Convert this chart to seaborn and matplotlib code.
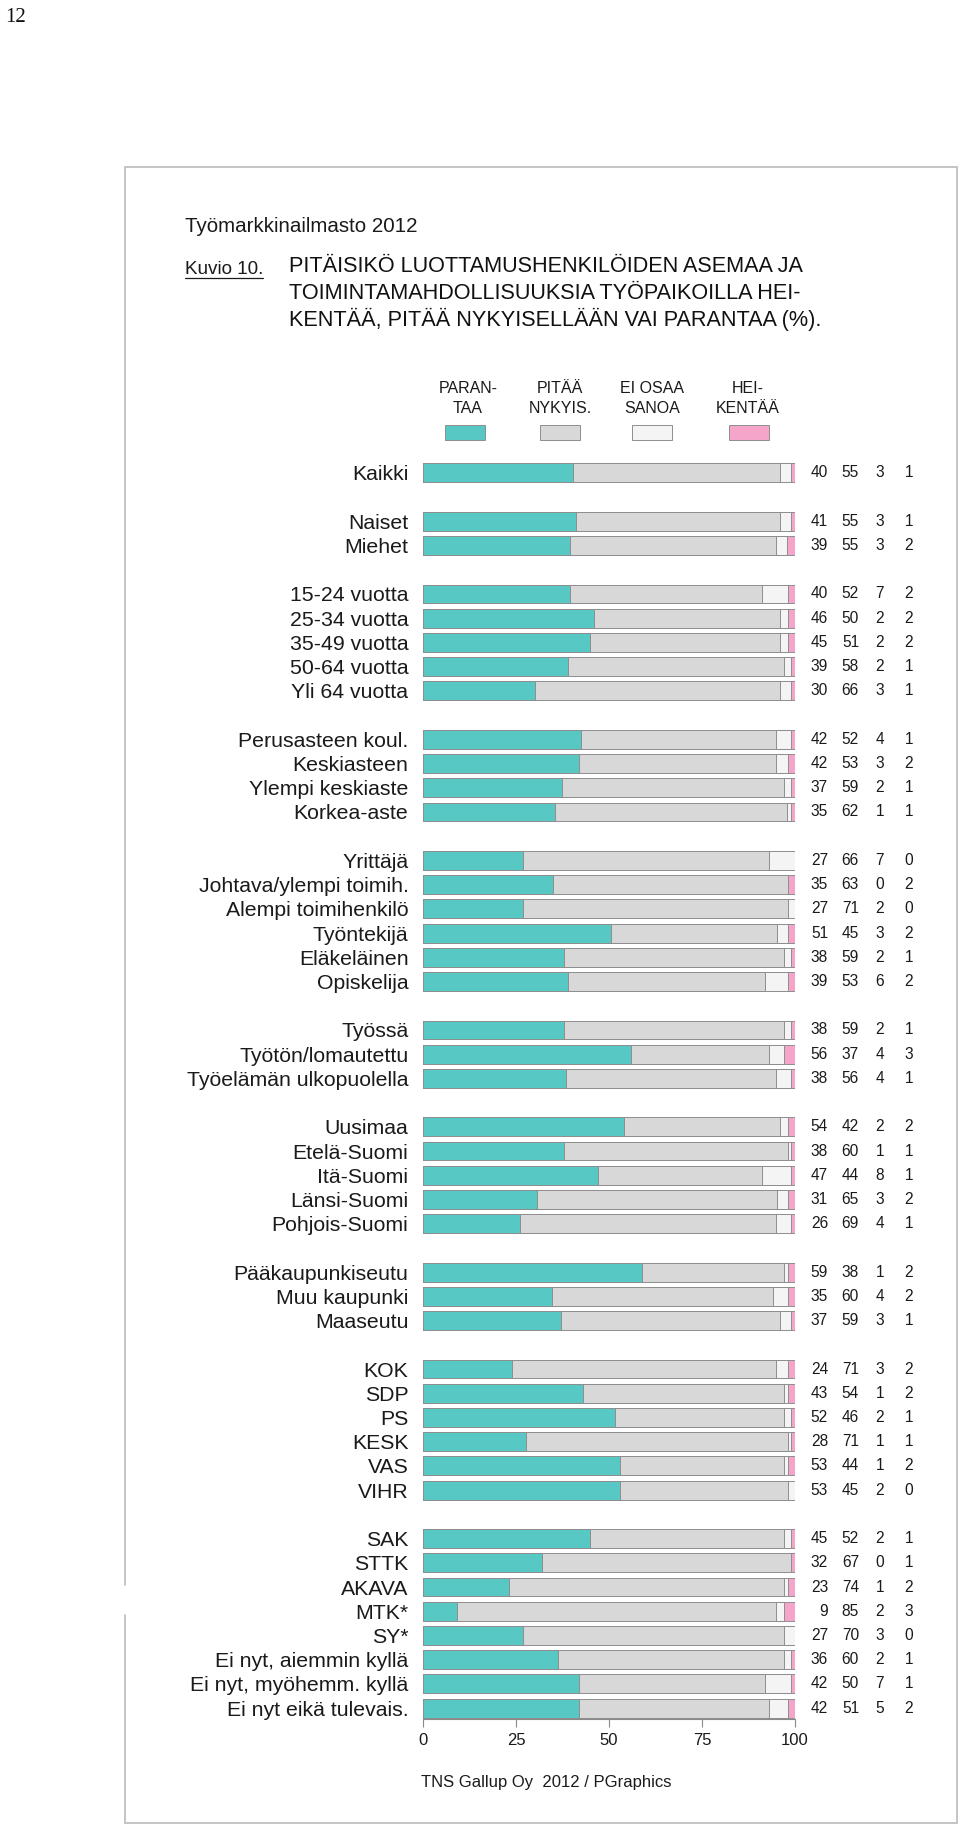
import numpy as np
import pandas as pd
import matplotlib
matplotlib.use("Agg")
import matplotlib.pyplot as plt
from matplotlib import font_manager
from matplotlib.lines import Line2D
from matplotlib.patches import Rectangle
import seaborn as sns

# ---------------- data ----------------
categories = [
    "Kaikki",
    "Naiset", "Miehet",
    "15-24 vuotta", "25-34 vuotta", "35-49 vuotta", "50-64 vuotta", "Yli 64 vuotta",
    "Perusasteen koul.", "Keskiasteen", "Ylempi keskiaste", "Korkea-aste",
    "Yrittäjä", "Johtava/ylempi toimih.", "Alempi toimihenkilö", "Työntekijä", "Eläkeläinen", "Opiskelija",
    "Työssä", "Työtön/lomautettu", "Työelämän ulkopuolella",
    "Uusimaa", "Etelä-Suomi", "Itä-Suomi", "Länsi-Suomi", "Pohjois-Suomi",
    "Pääkaupunkiseutu", "Muu kaupunki", "Maaseutu",
    "KOK", "SDP", "PS", "KESK", "VAS", "VIHR",
    "SAK", "STTK", "AKAVA", "MTK*", "SY*", "Ei nyt, aiemmin kyllä", "Ei nyt, myöhemm. kyllä", "Ei nyt eikä tulevais.",
]
group_sizes = [1, 2, 5, 4, 6, 3, 5, 3, 6, 8]

parantaa = [40, 41, 39, 40, 46, 45, 39, 30, 42, 42, 37, 35, 27, 35, 27, 51, 38, 39, 38, 56, 38,
            54, 38, 47, 31, 26, 59, 35, 37, 24, 43, 52, 28, 53, 53, 45, 32, 23, 9, 27, 36, 42, 42]
pitaa = [55, 55, 55, 52, 50, 51, 58, 66, 52, 53, 59, 62, 66, 63, 71, 45, 59, 53, 59, 37, 56,
         42, 60, 44, 65, 69, 38, 60, 59, 71, 54, 46, 71, 44, 45, 52, 67, 74, 85, 70, 60, 50, 51]
eos = [3, 3, 3, 7, 2, 2, 2, 3, 4, 3, 2, 1, 7, 0, 2, 3, 2, 6, 2, 4, 4,
       2, 1, 8, 3, 4, 1, 4, 3, 3, 1, 2, 1, 1, 2, 2, 0, 1, 2, 3, 2, 7, 5]
heikentaa = [1, 1, 2, 2, 2, 2, 1, 1, 1, 2, 1, 1, 0, 2, 0, 2, 1, 2, 1, 3, 1,
             2, 1, 1, 2, 1, 2, 2, 1, 2, 2, 1, 1, 2, 0, 1, 1, 2, 3, 0, 1, 1, 2]

legend_labels = ["PARAN-\nTAA", "PITÄÄ\nNYKYIS.", "EI OSAA\nSANOA", "HEI-\nKENTÄÄ"]
tick_values = [0, 25, 50, 75, 100]

# ---------------- style ----------------
colors = ["#57c8c4", "#d8d8d8", "#f4f4f4", "#f4a5c9"]
edge = "#8e8e8e"

sns.set_style("white")
plt.rcParams["font.family"] = ["Liberation Sans", "DejaVu Sans"]
names = {f.name for f in font_manager.fontManager.ttflist}
narrow = "Liberation Sans Narrow" if "Liberation Sans Narrow" in names else None

W, H = 960, 1826
fig = plt.figure(figsize=(W / 100, H / 100), dpi=100)


def fx(x):
    return x / W


def fy(y):
    return 1 - y / H


# row positions with gaps between groups
positions = []
p = 0
for gi, n in enumerate(group_sizes):
    for _ in range(n):
        positions.append(p)
        p += 1
    p += 1
positions = np.array(positions, dtype=float)

df = pd.DataFrame({"cat": categories, "pos": positions,
                   "a": parantaa, "b": pitaa, "c": eos, "d": heikentaa})
tot = df[["a", "b", "c", "d"]].sum(axis=1)
df["c1"] = df["a"] / tot * 100
df["c2"] = (df["a"] + df["b"]) / tot * 100
df["c3"] = (df["a"] + df["b"] + df["c"]) / tot * 100
df["c4"] = 100.0

ax_top, ax_bot = 462, 1719
ax = fig.add_axes([fx(423), fy(ax_bot), 372 / W, (ax_bot - ax_top) / H])

for col, c in zip(["c4", "c3", "c2", "c1"], colors[::-1]):
    sns.barplot(data=df, x=col, y="pos", orient="h", native_scale=True,
                color=c, saturation=1, edgecolor=edge, linewidth=0.7,
                width=0.78, errorbar=None, ax=ax)

last = positions.max()
ax.set_ylim(last + 0.45, -0.45)
ax.set_xlim(0, 100)
ax.set_xlabel("")
ax.set_ylabel("")
ax.set_yticks(positions)
ax.set_yticklabels(categories, fontsize=15.3, color="#1a1a1a")
ax.tick_params(axis="y", left=False, pad=7)
ax.set_xticks(tick_values)
ax.set_xticklabels([str(t) for t in tick_values], fontsize=12, color="#1a1a1a")
ax.tick_params(axis="x", bottom=True, direction="out", length=6, width=0.8,
               color="#8a8a8a", pad=4)
for s in ["top", "right", "left"]:
    ax.spines[s].set_visible(False)
ax.spines["bottom"].set_color("#8a8a8a")
ax.spines["bottom"].set_linewidth(0.8)
ax.patch.set_alpha(0)

# value columns
col_x = [(828 - 423) / 3.72, (859 - 423) / 3.72, (884 - 423) / 3.72, (913 - 423) / 3.72]
for i, row in df.iterrows():
    for xx, v in zip(col_x, [row["a"], row["b"], row["c"], row["d"]]):
        ax.text(xx, row["pos"], f"{int(v)}", ha="right", va="center",
                fontsize=11.2, color="#1a1a1a", clip_on=False)

# legend
label_cx = [468, 560, 652, 748]
swatch_cx = [465, 560, 652, 749]
for lab, lx, sx, c in zip(legend_labels, label_cx, swatch_cx, colors):
    l1, l2 = lab.split("\n")
    kw = dict(ha="center", va="baseline", color="#1a1a1a")
    if narrow:
        kw.update(family=narrow, fontsize=13)
    else:
        kw.update(fontsize=11.5)
    fig.text(fx(lx), fy(393), l1, **kw)
    fig.text(fx(lx), fy(413), l2, **kw)
    fig.add_artist(Rectangle((fx(sx - 20), fy(440)), 40 / W, 15 / H,
                             transform=fig.transFigure, facecolor=c,
                             edgecolor=edge, linewidth=0.7))

# header texts
fig.text(fx(5), fy(22), "12", family=["Liberation Serif", "DejaVu Serif"],
         fontsize=15, ha="left", va="baseline", color="#111111")
fig.text(fx(185), fy(232), "Työmarkkinailmasto 2012", fontsize=14.8,
         ha="left", va="baseline", color="#1a1a1a")
kt = fig.text(fx(185), fy(274), "Kuvio 10.", fontsize=13.6,
              ha="left", va="baseline", color="#1a1a1a")
title_lines = ["PITÄISIKÖ LUOTTAMUSHENKILÖIDEN ASEMAA JA",
               "TOIMINTAMAHDOLLISUUKSIA TYÖPAIKOILLA HEI-",
               "KENTÄÄ, PITÄÄ NYKYISELLÄÄN VAI PARANTAA (%)."]
for tl, by in zip(title_lines, [272, 299, 326]):
    fig.text(fx(289), fy(by), tl, fontsize=15.6, ha="left", va="baseline",
             color="#111111")

fig.text(fx(421), fy(1787), "TNS Gallup Oy  2012 / PGraphics", fontsize=12,
         ha="left", va="baseline", color="#1a1a1a")

# underline for "Kuvio 10."
fig.canvas.draw()
bb = kt.get_window_extent(renderer=fig.canvas.get_renderer())
fig.add_artist(Line2D([bb.x0 / W, bb.x1 / W], [fy(278), fy(278)],
                      transform=fig.transFigure, color="#1a1a1a", linewidth=0.9))

# page frame
fc = "#c4c4c4"
flw = 1.4
segs = [((125, 167), (957, 167)), ((957, 167), (957, 1823)),
        ((125, 1823), (957, 1823)), ((125, 167), (125, 1585)),
        ((125, 1615), (125, 1823))]
for (x0, y0), (x1, y1) in segs:
    fig.add_artist(Line2D([fx(x0), fx(x1)], [fy(y0), fy(y1)],
                          transform=fig.transFigure, color=fc, linewidth=flw))

fig.savefig("out.png", dpi=100)
